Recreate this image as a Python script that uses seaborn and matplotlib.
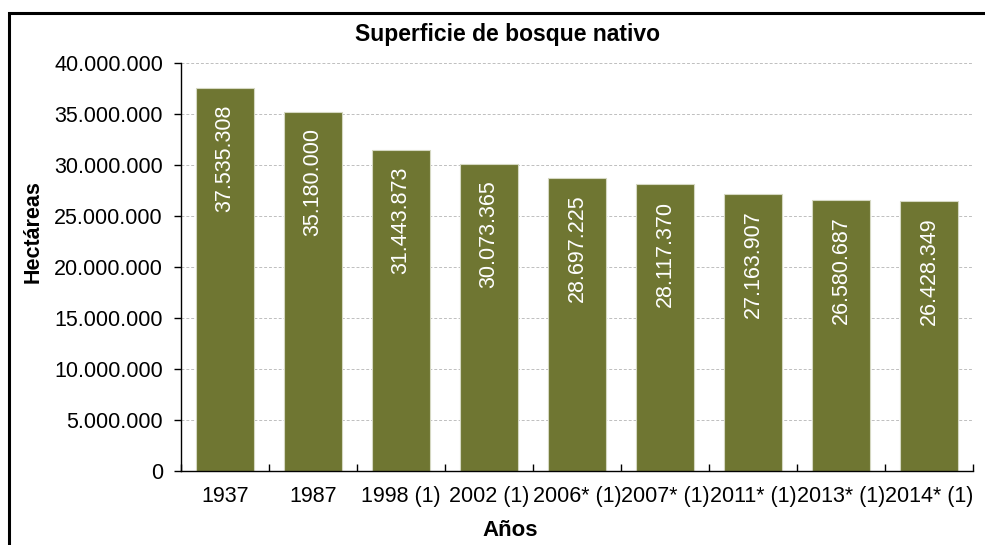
import matplotlib
matplotlib.use('Agg')
import matplotlib.pyplot as plt
import matplotlib.patches as mpatches
from matplotlib.ticker import FuncFormatter, MultipleLocator
import seaborn as sns
import pandas as pd

# Datos
anios = ['1937', '1987', '1998 (1)', '2002 (1)', '2006* (1)', '2007* (1)',
         '2011* (1)', '2013* (1)', '2014* (1)']
hectareas = [37535308, 35180000, 31443873, 30073365, 28697225, 28117370,
             27163907, 26580687, 26428349]

df = pd.DataFrame({'Años': anios, 'Hectáreas': hectareas})

sns.set_style('white')
plt.rcParams['font.family'] = ['Liberation Sans', 'DejaVu Sans']
plt.rcParams['text.color'] = 'black'
plt.rcParams['xtick.color'] = 'black'
plt.rcParams['ytick.color'] = 'black'

def miles(v, pos=None):
    return f'{int(round(v)):,}'.replace(',', '.')

fs = 15.5

fig = plt.figure(figsize=(9.85, 5.45), dpi=100)
ax = fig.add_axes([181/985, 1 - 471/545, 792/985, 408/545])

sns.barplot(data=df, x='Años', y='Hectáreas', color='#6F7632', saturation=1,
            width=0.65, edgecolor='#D5D8C2', linewidth=0.8, ax=ax, zorder=2)

ax.set_ylim(0, 40000000)
ax.set_xlim(-0.5, len(anios) - 0.5)
ax.yaxis.set_major_locator(MultipleLocator(5000000))
ax.yaxis.set_major_formatter(FuncFormatter(miles))
ax.grid(axis='y', color='#BFBFBF', linestyle=(0, (3, 2)), linewidth=0.7, zorder=0)
ax.set_axisbelow(True)

for s in ['top', 'right']:
    ax.spines[s].set_visible(False)
for s in ['left', 'bottom']:
    ax.spines[s].set_color('black')
    ax.spines[s].set_linewidth(1.0)

ax.tick_params(axis='y', direction='out', length=5, width=1, color='black',
               labelsize=fs, pad=8, left=True)
ax.tick_params(axis='x', which='major', length=0, labelsize=fs, pad=11)
ax.set_xticks([i - 0.5 for i in range(len(anios) + 1)], minor=True)
ax.tick_params(axis='x', which='minor', direction='in', length=5, width=1,
               color='black', bottom=True)
ax.set_xlabel('')
ax.set_ylabel('')

# etiquetas dentro de las barras
for i, v in enumerate(hectareas):
    ax.text(i, v - 1600000, miles(v), rotation=90, color='white',
            ha='center', va='top', fontsize=fs, zorder=3)

fig.text(508/985, 1 - 34/545, 'Superficie de bosque nativo', ha='center',
         va='center', fontsize=16.5, fontweight='bold')
fig.text(510/985, 1 - 530/545, 'Años', ha='center', va='center',
         fontsize=16, fontweight='bold')
fig.text(33/985, 1 - 232/545, 'Hectáreas', ha='center', va='center',
         rotation=90, fontsize=15.5, fontweight='bold')

# marco del gráfico
fig.patches.append(mpatches.Rectangle((9/985, -0.1), 1.1, 1 - 13/545 + 0.1,
                                      transform=fig.transFigure, fill=False,
                                      edgecolor='black', linewidth=2.2))

fig.savefig('out.png', dpi=100)
